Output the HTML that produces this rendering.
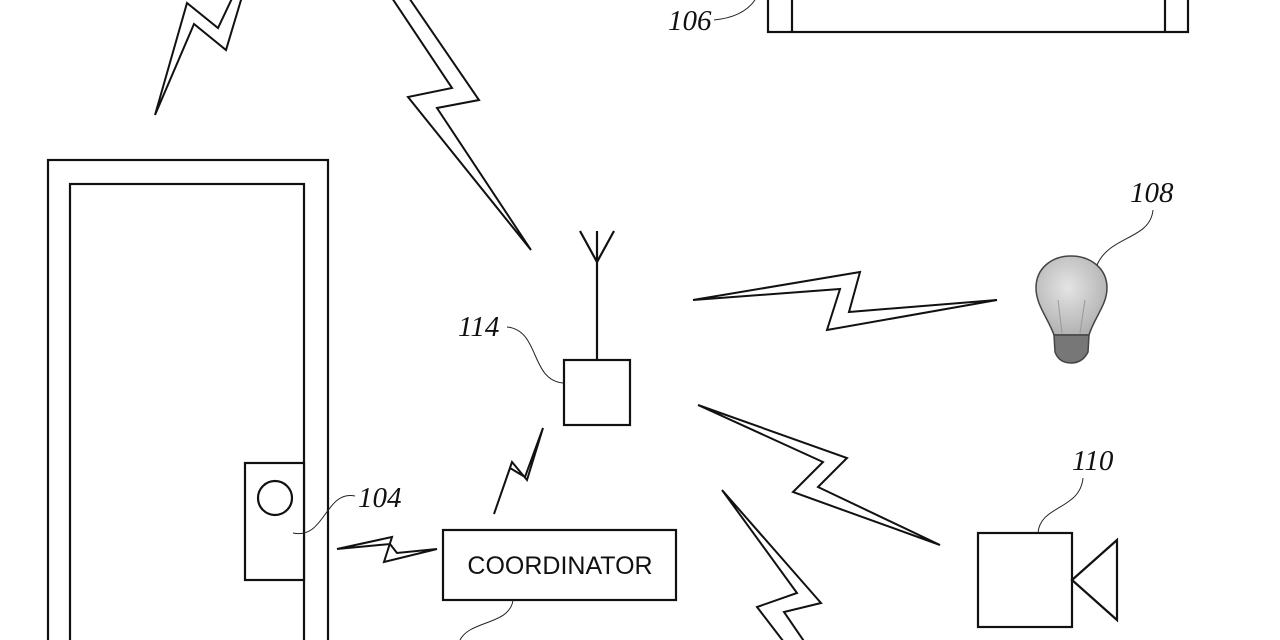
<!DOCTYPE html>
<html><head><meta charset="utf-8"><style>html,body{margin:0;padding:0;background:#fff}svg{display:block}</style></head>
<body>
<svg width="1280" height="640" viewBox="0 0 1280 640" xmlns="http://www.w3.org/2000/svg">
<defs>
<radialGradient id="bulb" cx="0.45" cy="0.4" r="0.7"><stop offset="0" stop-color="#e4e4e4"/><stop offset="1" stop-color="#aaa"/></radialGradient>
</defs>
<g fill="none" stroke="#111" stroke-width="2.2" stroke-linejoin="miter">
<rect x="48" y="160" width="280" height="500"/>
<rect x="70" y="184" width="234" height="480"/>
<rect x="245" y="463" width="59" height="117" fill="#fff"/>
<circle cx="275" cy="498" r="17"/>
<rect x="768" y="-20" width="420" height="52"/>
<line x1="792" y1="-5" x2="792" y2="32"/>
<line x1="1165" y1="-5" x2="1165" y2="32"/>
<rect x="564" y="360" width="66" height="65"/>
<line x1="597" y1="262" x2="597" y2="360"/>
<line x1="580" y1="231" x2="597" y2="262"/>
<line x1="614" y1="231" x2="597" y2="262"/>
<line x1="597" y1="231" x2="597" y2="262"/>
<rect x="443" y="530" width="233" height="70"/>
<rect x="978" y="533" width="94" height="94"/>
<polygon points="1072,580 1117,540 1117,620"/>
</g>
<g fill="#fff" stroke="#111" stroke-width="2" stroke-linejoin="miter">
<polygon points="155,115 187,3 218,28 236,-10 244,-10 226,50 194,24"/>
<polygon points="390,-5 452,88 408,97 531,250 437,108 479,100 407,-5"/>
<polygon points="693,300 860,272 849,312 997,300 827,330 840,289"/>
<polygon points="698,405 847,458 818,487 940,545 793,492 823,462"/>
<polygon points="722,490 821,603 784,612 810,650 790,650 757,607 797,593"/>
<polygon points="543,428 527,480 512,462 494,514 510,468 525,477"/>
<polygon points="337,549 392,537 384,562 437,549 397,553 390,544"/>
</g>
<g stroke="#444" stroke-width="1.5">
<path d="M1054,335 C1048,318 1036,305 1036,288 C1036,268 1052,256 1071,256 C1090,256 1107,268 1107,288 C1107,305 1094,318 1089,335 Z" fill="url(#bulb)"/>
<path d="M1054,335 L1089,335 L1088,352 C1084,360 1078,363 1071,363 C1064,363 1058,360 1055,352 Z" fill="#777"/>
<path d="M1062,333 L1058,300 M1080,333 L1085,300" fill="none" stroke="#999" stroke-width="1"/>
</g>
<g fill="none" stroke="#222" stroke-width="1">
<path d="M714,20 C735,18 748,10 755,0"/>
<path d="M1153,210 C1150,240 1110,235 1097,265"/>
<path d="M507,327 C540,330 530,380 563,383"/>
<path d="M355,496 C325,490 325,540 293,533"/>
<path d="M1083,478 C1080,510 1040,505 1038,533"/>
<path d="M513,600 C510,625 470,620 460,640"/>
</g>
<g font-family="Liberation Serif, serif" font-style="italic" font-size="29" fill="#111">
<text x="668" y="30">106</text>
<text x="1130" y="202">108</text>
<text x="458" y="336">114</text>
<text x="358" y="507">104</text>
<text x="1072" y="470">110</text>
</g>
<text x="560" y="574" text-anchor="middle" font-family="Liberation Sans, sans-serif" font-size="25" fill="#111">COORDINATOR</text>
</svg>
</body></html>
